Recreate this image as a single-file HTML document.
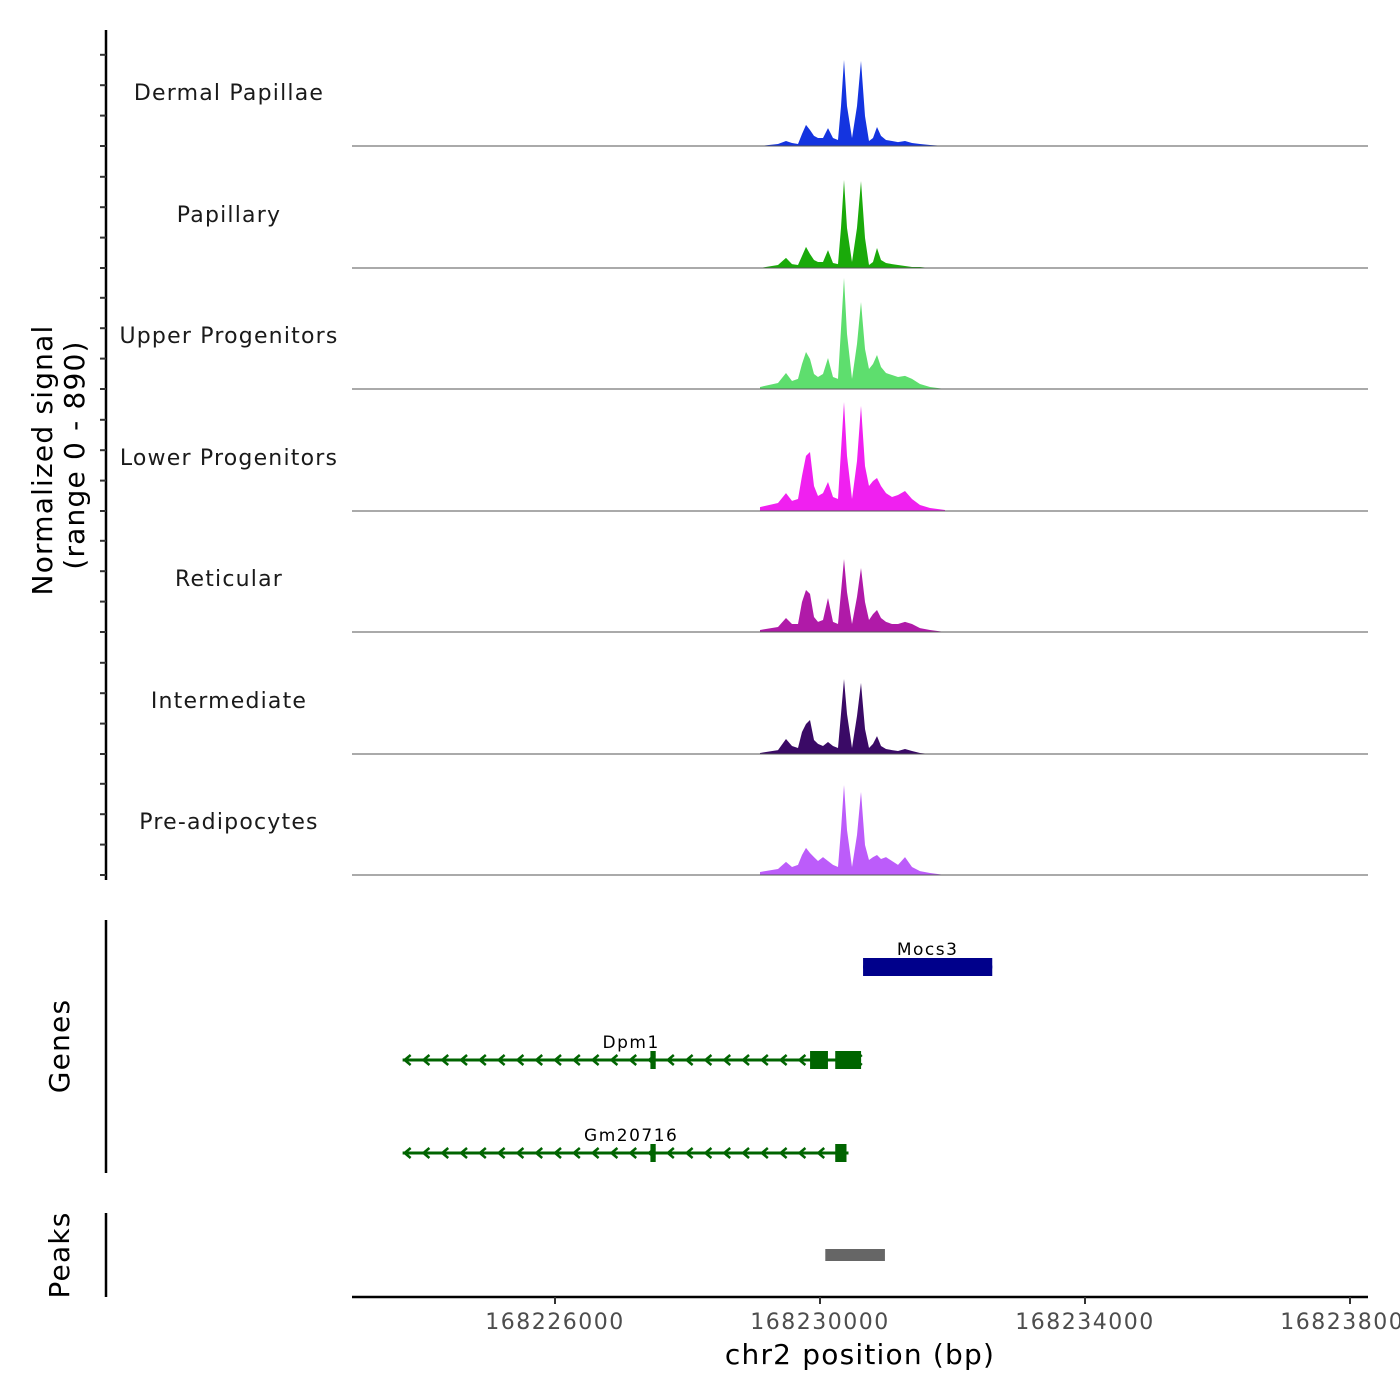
<!DOCTYPE html>
<html><head><meta charset="utf-8"><style>
html,body{margin:0;padding:0;background:#fff;}
svg{display:block;font-family:"DejaVu Sans","Liberation Sans",sans-serif;}
</style></head><body>
<svg id="chart" width="1400" height="1400" viewBox="0 0 1400 1400">
<g id="tracks"></g>
<g id="axes"></g>
<g id="genes"></g>
<g id="peaks"></g>
</svg>
<script>
const trackNames = ["Dermal Papillae","Papillary","Upper Progenitors","Lower Progenitors","Reticular","Intermediate","Pre-adipocytes"];
const trackColors = ["#1434E0","#1AAA0A","#5EDE6E","#F020F0","#B01AA8","#3A0A66","#BC5CFA"];
const posBase = 168230000;
const posOffset = [-906,-634,-513,-423,-332,-272,-211,-151,-91,-30,45,121,196,272,317,362,408,483,558,619,679,740,800,860,921,996,1087,1177,1283,1389,1509,1660,1887];
const sigDP  = [0,15,37,22,15,88,155,118,74,59,59,132,59,44,294,633,294,59,294,626,221,37,59,140,74,44,37,29,37,22,15,7,0];
const sigPap = [0,22,74,29,22,88,155,103,59,44,44,132,37,29,294,648,294,44,294,640,221,22,44,147,59,37,29,22,15,7,7,0,0];
const sigUP  = [15,44,118,59,74,184,272,221,110,88,110,228,88,74,442,817,405,74,331,640,294,147,184,250,162,118,103,88,96,74,37,15,0];
const sigLP  = [29,59,132,74,88,258,405,434,184,110,132,213,103,88,442,802,405,88,368,773,331,184,221,243,184,132,103,118,147,88,44,22,7];
const sigRet = [15,37,103,59,59,221,309,280,110,74,88,250,74,59,294,537,294,59,258,471,221,88,132,162,103,74,59,59,74,59,29,15,0];
const sigInt = [7,29,110,59,44,162,221,250,103,74,59,88,59,44,294,552,294,44,280,523,184,44,74,132,59,37,29,22,37,22,7,0,0];
const sigPre = [22,44,96,59,74,147,199,162,132,103,132,103,74,59,331,662,331,59,294,611,221,110,132,147,118,132,103,74,132,59,29,15,0];
const xTicks = [168226000,168230000,168234000,168238000];
const genes = [
 {name:"Mocs3", start:168230650, end:168232600, strand:"+", row:0, color:"#00008B", exons:[[168230650,168232600]]},
 {name:"Dpm1", start:168223700, end:168230620, strand:"-", row:1, color:"#006400", exons:[[168227440,168227520],[168229850,168230120],[168230230,168230620]]},
 {name:"Gm20716", start:168223700, end:168230430, strand:"-", row:2, color:"#006400", exons:[[168227440,168227520],[168230230,168230400]]}
];
const peakRegions = [[168230080,168230980]];

const NS="http://www.w3.org/2000/svg";
const PX0=352, PX1=1368;
const BP0 = 168226000 - 203/0.06625, BPPX = 0.06625;
function x(bp){return PX0 + (bp-BP0)*BPPX;}
const baselines=[146,268,389,511,632,754,875], TH=121, YMAX=890;
function mk(tag,attrs,parent){const e=document.createElementNS(NS,tag);for(const k in attrs)e.setAttribute(k,attrs[k]);parent.appendChild(e);return e;}
const series=[sigDP,sigPap,sigUP,sigLP,sigRet,sigInt,sigPre];
const gT=document.getElementById('tracks');
series.forEach((s,i)=>{
  const b=baselines[i];
  const y=v=>b - v/YMAX*TH;
  let d=`M${x(posBase+posOffset[0])},${b}`;
  s.forEach((v,j)=>{d+=` L${x(posBase+posOffset[j]).toFixed(1)},${y(v).toFixed(1)}`;});
  d+=` L${x(posBase+posOffset[posOffset.length-1]).toFixed(1)},${b} Z`;
  const p=mk('path',{d:d,fill:trackColors[i]},gT);
  
  
  const l=mk('line',{x1:PX0,x2:PX1,y1:b,y2:b,stroke:'#555','stroke-width':1},gT);
  
  
  const t=mk('text',{x:229,y:b-46,'text-anchor':'middle','font-size':22,fill:'#1a1a1a','letter-spacing':'1.2'},gT);
  t.textContent=trackNames[i];
  
  
});
const gA=document.getElementById('axes');
mk('line',{x1:106,x2:106,y1:30,y2:880,stroke:'#000','stroke-width':2.5},gA);
for(let i=0;i<7;i++){for(let k=0;k<4;k++){const yy=baselines[i]-k*30.4;mk('line',{x1:100,x2:106,y1:yy,y2:yy,stroke:'#333','stroke-width':2},gA);}}
mk('line',{x1:106,x2:106,y1:920,y2:1173,stroke:'#000','stroke-width':2.5},gA);
mk('line',{x1:106,x2:106,y1:1213,y2:1297,stroke:'#000','stroke-width':2.5},gA);
mk('line',{x1:PX0,x2:PX1,y1:1297,y2:1297,stroke:'#000','stroke-width':2.5},gA);
xTicks.forEach(v=>{
  const xx=x(v);
  mk('line',{x1:xx,x2:xx,y1:1297,y2:1304,stroke:'#333','stroke-width':2},gA);
  const t=mk('text',{x:xx,y:1329,'text-anchor':'middle','font-size':22,fill:'#4d4d4d','letter-spacing':'1.5'},gA);
  t.textContent=v;
  
  
});
let t=mk('text',{x:860,y:1364,'text-anchor':'middle','font-size':28,fill:'#000','letter-spacing':'1.2'},gA);t.textContent='chr2 position (bp)';

t=mk('text',{transform:'translate(52,460) rotate(-90)','text-anchor':'middle','font-size':28,fill:'#000','letter-spacing':'1.2'},gA);t.textContent='Normalized signal';

t=mk('text',{transform:'translate(84,455) rotate(-90)','text-anchor':'middle','font-size':28,fill:'#000','letter-spacing':'1.2'},gA);t.textContent='(range 0 - 890)';

t=mk('text',{transform:'translate(69,1046) rotate(-90)','text-anchor':'middle','font-size':28,fill:'#000','letter-spacing':'1.2'},gA);t.textContent='Genes';

t=mk('text',{transform:'translate(69,1255) rotate(-90)','text-anchor':'middle','font-size':28,fill:'#000','letter-spacing':'1.2'},gA);t.textContent='Peaks';


const gG=document.getElementById('genes');
const rowY=[967,1060,1153];
genes.forEach(g=>{
  const y=rowY[g.row], x1=x(g.start), x2=x(g.end);
  const grp=mk('g',{},gG);
  
  
  mk('line',{x1:x1,x2:x2,y1:y,y2:y,stroke:g.color,'stroke-width':3},grp);
  for(let cx=x1+2;cx<x2-4;cx+=18.8){
    const d=g.strand==='-'?`M${cx+6},${y-5} L${cx},${y} L${cx+6},${y+5}`:`M${cx},${y-5} L${cx+6},${y} L${cx},${y+5}`;
    mk('path',{d:d,fill:'none',stroke:g.color,'stroke-width':2.5},grp);
  }
  g.exons.forEach(e=>{const a=x(e[0]),b=x(e[1]);mk('rect',{x:a,y:y-9,width:Math.max(b-a,5),height:18,fill:g.color},grp);});
  const lt=mk('text',{x:(g.name==='Mocs3')?(x1+x2)/2:x(168227150),y:y-12,'text-anchor':'middle','font-size':17,fill:'#000','letter-spacing':'1.5'},grp);
  lt.textContent=g.name;
});
const gP=document.getElementById('peaks');
peakRegions.forEach(r=>{
  const rc=mk('rect',{x:x(r[0]),y:1249,width:x(r[1])-x(r[0]),height:12,fill:'#666'},gP);
  
  
});
</script>
</body></html>
